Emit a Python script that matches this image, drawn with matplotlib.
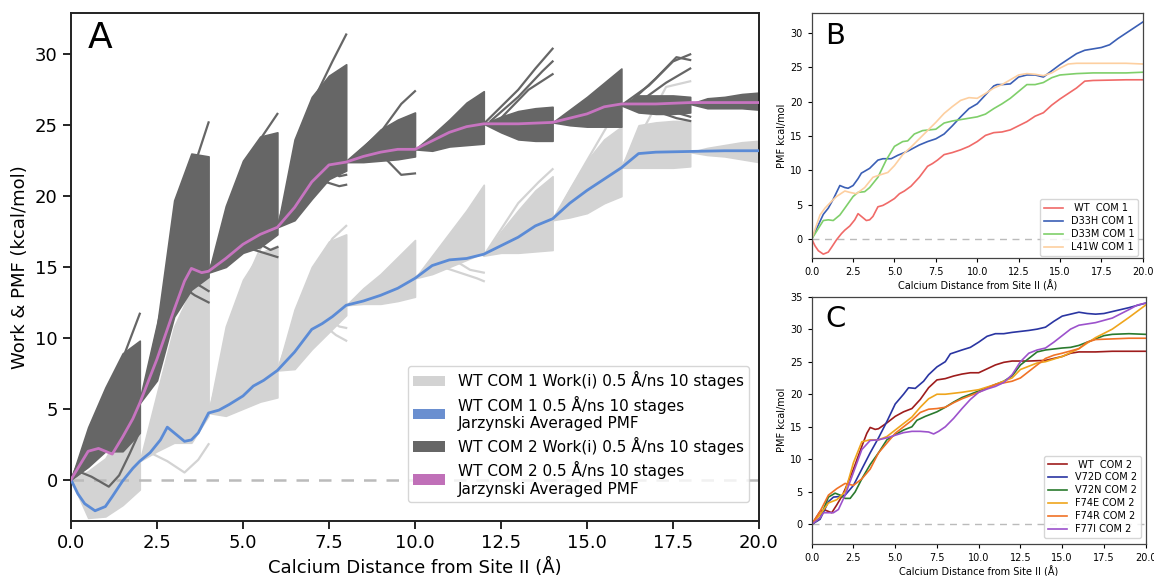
import matplotlib
matplotlib.use("Agg")
import matplotlib.pyplot as plt
from matplotlib.patches import Patch

# ---------------- DATA ----------------
# Panel A: Jarzynski averaged PMFs
WT1_X = [0, 0.2, 0.4, 0.7, 1.0, 1.2, 1.5, 1.8, 2.0, 2.3, 2.6, 2.8, 3.0, 3.3, 3.5, 3.7, 4.0, 4.3, 4.6,
         5.0, 5.3, 5.6, 6.0, 6.5, 7.0, 7.3, 7.6, 8.0, 8.5, 9.0, 9.5, 10.0, 10.5, 11.0, 11.5, 12.0,
         12.5, 13.0, 13.5, 14.0, 14.5, 15.0, 15.5, 16.0, 16.5, 17.0, 18.0, 19.0, 20.0]
WT1_Y = [0, -1.0, -1.7, -2.2, -1.9, -1.2, -0.1, 0.8, 1.3, 1.9, 2.8, 3.7, 3.3, 2.7, 2.8, 3.3, 4.7, 4.9, 5.3,
         5.9, 6.6, 7.0, 7.7, 9.0, 10.6, 11.0, 11.5, 12.3, 12.6, 13.0, 13.5, 14.2, 15.1, 15.5, 15.6, 15.9,
         16.5, 17.1, 17.9, 18.4, 19.5, 20.4, 21.2, 22.0, 23.0, 23.1, 23.15, 23.2, 23.2]
WT2_X = [0, 0.3, 0.5, 0.8, 1.0, 1.2, 1.5, 1.8, 2.0, 2.5, 3.0, 3.3, 3.5, 3.8, 4.0, 4.5, 5.0, 5.5, 6.0,
         6.5, 7.0, 7.5, 8.0, 8.5, 9.0, 9.5, 10.0, 10.5, 11.0, 11.5, 12.0, 13.0, 14.0, 15.0, 15.5, 16.0,
         17.0, 18.0, 20.0]
WT2_Y = [0, 1.2, 2.0, 2.2, 2.0, 1.8, 3.0, 4.3, 5.4, 8.5, 12.0, 14.0, 14.9, 14.6, 14.7, 15.6, 16.6, 17.3, 17.8,
         19.2, 21.0, 22.2, 22.4, 22.8, 23.1, 23.3, 23.3, 23.9, 24.5, 24.9, 25.1, 25.1, 25.2, 25.8, 26.3, 26.5,
         26.5, 26.6, 26.6]

# Work(i) bundles: 10 pulling stages, envelope sampled at stage offsets
STAGE_STARTS = [0, 2, 4, 6, 8, 10, 12, 14, 16, 18]
STAGE_OFFSETS = [0, 0.5, 1.0, 1.5, 2.0]
COM1_LOW = [[0, -2.7, -2.6, -1.8, -0.7], [1.3, 2.0, 2.6, 2.6, 4.5], [4.7, 4.5, 5.0, 5.5, 5.8],
            [7.7, 7.8, 9.2, 10.4, 11.6], [12.3, 12.4, 12.4, 12.6, 12.9], [14.2, 14.5, 15.0, 15.5, 16.0],
            [15.8, 16.0, 16.0, 16.1, 16.2], [18.3, 18.5, 18.8, 19.5, 20.0], [22.0, 22.0, 22.0, 22.0, 22.1],
            [23.1, 22.9, 22.8, 22.6, 22.4]]
COM1_HIGH = [[0, 0.6, 1.5, 3.5, 9.6], [1.3, 6.1, 10.8, 13.4, 14.3], [4.7, 10.8, 14.1, 16.0, 16.5],
             [7.7, 12.0, 15.0, 16.8, 17.3], [12.3, 13.5, 14.5, 15.7, 16.9], [14.2, 15.8, 17.4, 19.0, 20.8],
             [15.8, 17.5, 19.0, 20.4, 21.4], [18.3, 20.5, 22.5, 24.0, 24.9], [22.0, 25.0, 25.2, 25.3, 25.3],
             [23.1, 23.4, 23.6, 23.8, 23.9]]
COM2_LOW = [[0, 0.9, 2.0, 2.0, 3.3], [5.4, 7.0, 11.5, 13.4, 14.3], [14.6, 15.0, 16.0, 16.4, 17.3],
            [17.8, 18.3, 19.8, 21.2, 21.8], [22.4, 22.4, 22.5, 22.6, 22.8], [23.3, 23.2, 23.5, 23.6, 23.7],
            [25.1, 24.5, 24.0, 23.9, 23.9], [25.2, 25.0, 24.9, 24.9, 24.9], [26.4, 25.9, 25.8, 25.8, 25.9],
            [26.5, 26.2, 26.2, 26.2, 26.1]]
COM2_HIGH = [[0, 3.7, 6.5, 8.9, 9.8], [5.4, 10.8, 19.7, 23.0, 22.8], [14.6, 19.3, 22.5, 24.2, 24.5],
             [17.8, 24.0, 27.0, 28.5, 29.3], [22.4, 23.5, 24.7, 25.4, 25.9], [23.3, 24.3, 25.4, 26.6, 27.4],
             [25.1, 25.6, 26.0, 26.2, 26.3], [25.2, 26.1, 27.0, 28.0, 29.0], [26.4, 27.1, 27.1, 27.1, 27.0],
             [26.5, 26.9, 27.0, 27.2, 27.3]]
# individual straggling work trajectories (x list, y list)
COM1_TRACES = [
    ([2.3, 2.8, 3.3, 3.7, 4.0], [1.9, 1.3, 0.5, 1.4, 2.5]),
    ([4.0, 5.0, 5.6, 6.0], [4.7, 13.5, 16.8, 17.6]),
    ([6.0, 7.0, 7.6, 8.0], [7.7, 14.5, 17.0, 17.9]),
    ([7.3, 7.7, 8.0], [11.0, 10.2, 9.8]),
    ([7.5, 7.8, 8.0], [11.3, 10.8, 10.7]),
    ([10.8, 11.3, 11.8, 12.0], [15.0, 14.6, 14.2, 14.0]),
    ([11.2, 11.6, 12.0], [15.4, 14.8, 14.6]),
    ([12.0, 13.0, 13.6, 14.0], [15.8, 19.5, 21.0, 21.9]),
    ([14.0, 15.0, 15.6, 16.0], [18.3, 22.5, 25.0, 26.0]),
    ([16.0, 16.7, 17.3, 18.0], [22.0, 25.0, 27.7, 28.1]),
]
COM2_TRACES = [
    ([0, 0.3, 0.6, 1.1, 1.4, 1.7, 2.0], [0, 0.5, 0.2, -0.5, 0.3, 1.8, 3.4]),
    ([0, 0.8, 1.5, 2.0], [0, 4.5, 8.5, 11.7]),
    ([2.0, 3.0, 3.5, 4.0], [5.4, 16.0, 21.5, 25.2]),
    ([3.3, 3.6, 4.0], [13.5, 13.0, 12.5]),
    ([3.5, 3.8, 4.0], [14.0, 13.6, 13.3]),
    ([4.0, 5.0, 5.5, 6.0], [14.6, 21.0, 24.0, 25.8]),
    ([5.2, 5.6, 6.0], [16.3, 16.0, 15.7]),
    ([5.5, 5.8, 6.0], [16.6, 16.2, 16.4]),
    ([6.0, 7.0, 7.6, 8.0], [17.8, 26.5, 29.5, 31.4]),
    ([7.4, 7.8, 8.0], [21.0, 20.7, 20.8]),
    ([7.6, 7.8, 8.0], [21.7, 21.4, 21.5]),
    ([8.0, 9.0, 9.6, 10.0], [22.4, 24.5, 26.5, 27.4]),
    ([9.2, 9.6, 10.0], [22.5, 21.5, 21.6]),
    ([12.0, 13.0, 13.5, 14.0], [25.1, 27.5, 29.0, 30.4]),
    ([12.2, 13.0, 13.7, 14.0], [25.3, 27.0, 28.8, 29.5]),
    ([12.5, 13.3, 14.0], [25.5, 27.5, 28.6]),
    ([16.0, 16.8, 17.5, 18.0], [26.4, 27.8, 29.5, 30.0]),
    ([16.2, 17.0, 17.6, 18.0], [26.5, 28.3, 29.8, 29.6]),
    ([16.5, 17.3, 18.0], [26.6, 28.0, 29.0]),
    ([17.0, 17.6, 18.0], [26.0, 25.5, 25.3]),
    ([17.3, 18.0], [26.1, 25.6]),
]
A_LABELS = ["WT COM 1 Work(i) 0.5 Å/ns 10 stages",
            "WT COM 1 0.5 Å/ns 10 stages\nJarzynski Averaged PMF",
            "WT COM 2 Work(i) 0.5 Å/ns 10 stages",
            "WT COM 2 0.5 Å/ns 10 stages\nJarzynski Averaged PMF"]

# Panel B: COM 1 mutants
B_LABELS = [" WT  COM 1", "D33H COM 1", "D33M COM 1", "L41W COM 1"]
D33H_X = [0, 0.7, 1.0, 1.3, 1.7, 2.0, 2.2, 2.5, 2.8, 3.0, 3.5, 4.0, 4.3, 4.8, 5.2, 5.8, 6.5, 7.0, 7.5, 8.0,
          8.5, 9.0, 9.5, 10.0, 10.5, 11.0, 11.2, 11.5, 12.0, 12.5, 13.0, 13.5, 14.0, 14.5, 15.0, 15.5,
          16.0, 16.5, 17.0, 17.5, 18.0, 18.5, 19.0, 19.5, 20.0]
D33H_Y = [0, 3.6, 4.5, 5.8, 7.8, 7.5, 7.4, 7.8, 8.8, 9.6, 10.3, 11.5, 11.7, 11.7, 12.2, 12.8, 13.7, 14.2,
          14.6, 15.3, 16.5, 17.8, 19.0, 19.7, 21.0, 22.3, 22.5, 22.5, 22.6, 23.6, 23.9, 23.9, 23.6, 24.5,
          25.4, 26.2, 27.0, 27.5, 27.7, 27.9, 28.3, 29.2, 30.0, 30.8, 31.6]
D33M_X = [0, 0.7, 1.0, 1.3, 1.7, 2.0, 2.5, 2.8, 3.2, 3.5, 4.0, 4.5, 5.0, 5.5, 5.8, 6.2, 6.7, 7.5, 8.0, 8.5,
          9.0, 9.5, 10.0, 10.5, 11.0, 11.5, 12.0, 12.5, 13.0, 13.5, 14.0, 14.5, 15.0, 16.0, 17.0, 18.0,
          19.0, 20.0]
D33M_Y = [0, 2.7, 2.8, 2.7, 3.5, 4.5, 6.2, 6.8, 6.9, 7.5, 9.0, 11.5, 13.5, 14.2, 14.3, 15.3, 15.8, 16.0,
          16.9, 17.2, 17.4, 17.6, 17.8, 18.2, 19.0, 19.7, 20.5, 21.5, 22.5, 22.5, 22.8, 23.5, 23.9, 24.1,
          24.2, 24.2, 24.2, 24.3]
L41W_X = [0, 0.5, 0.8, 1.2, 1.5, 2.0, 2.3, 2.7, 3.2, 3.7, 4.2, 4.6, 5.0, 5.5, 6.0, 6.5, 7.0, 7.5, 8.0, 8.5,
          9.0, 9.5, 10.0, 10.5, 11.0, 11.5, 12.0, 12.5, 13.0, 13.5, 14.0, 14.5, 15.0, 15.5, 16.0, 17.0,
          18.0, 19.0, 20.0]
L41W_Y = [0, 3.5, 4.5, 5.5, 6.2, 7.0, 6.8, 6.6, 7.5, 9.0, 9.4, 9.7, 10.7, 12.3, 13.4, 14.6, 15.8, 17.0,
          18.3, 19.3, 20.2, 20.6, 20.5, 21.2, 22.0, 22.5, 23.2, 23.9, 24.1, 24.0, 23.8, 24.2, 24.9, 25.5,
          25.6, 25.6, 25.6, 25.6, 25.5]

# Panel C: COM 2 mutants
C_LABELS = [" WT  COM 2", "V72D COM 2", "V72N COM 2", "F74E COM 2", "F74R COM 2", "F77I COM 2"]
V72D_X = [0, 0.5, 1.0, 1.3, 1.7, 2.0, 2.5, 3.0, 3.5, 4.0, 4.5, 5.0, 5.5, 5.8, 6.2, 6.7, 7.0, 7.5, 8.0, 8.3,
          9.0, 9.5, 10.0, 10.5, 11.0, 11.5, 12.0, 13.0, 13.5, 14.0, 14.5, 15.0, 15.5, 16.0, 16.5, 17.0,
          17.5, 18.0, 18.5, 19.0, 20.0]
V72D_Y = [0, 0.8, 3.5, 4.2, 4.3, 4.5, 6.0, 8.5, 11.0, 13.3, 15.8, 18.5, 20.0, 21.0, 20.9, 22.0, 23.0, 24.2,
          25.0, 26.2, 26.8, 27.2, 28.0, 28.9, 29.3, 29.3, 29.5, 29.8, 30.0, 30.3, 31.2, 32.0, 32.3, 32.6,
          32.4, 32.3, 32.4, 32.7, 33.0, 33.3, 34.0]
V72N_X = [0, 0.5, 1.0, 1.4, 1.7, 2.0, 2.3, 2.6, 3.0, 3.5, 4.0, 4.5, 5.0, 5.5, 6.0, 6.3, 6.8, 7.5, 8.0, 8.5,
          9.0, 9.5, 10.0, 10.5, 11.0, 11.5, 12.0, 12.5, 13.0, 13.5, 14.0, 15.0, 15.5, 16.0, 17.0, 17.5,
          18.0, 19.0, 20.0]
V72N_Y = [0, 1.0, 4.2, 4.8, 4.5, 4.0, 4.0, 5.0, 7.0, 9.2, 11.0, 13.0, 13.8, 14.5, 15.0, 16.0, 16.6, 17.3,
          18.0, 18.8, 19.5, 20.0, 20.5, 21.0, 21.5, 22.0, 22.8, 24.5, 25.5, 26.5, 26.8, 27.1, 27.2, 27.5,
          28.5, 29.0, 29.2, 29.3, 29.2]
F74E_X = [0, 0.5, 1.0, 1.5, 2.0, 2.5, 3.0, 3.5, 4.0, 4.5, 5.0, 5.5, 6.0, 6.5, 7.0, 7.5, 8.0, 9.0, 10.0, 11.0,
          12.0, 12.5, 13.0, 13.5, 14.0, 15.0, 16.0, 17.0, 18.0, 19.0, 20.0]
F74E_Y = [0, 1.5, 3.3, 3.8, 5.0, 9.5, 12.7, 13.0, 13.0, 13.5, 14.5, 15.5, 16.5, 18.0, 19.3, 20.0, 20.0, 20.3,
          20.7, 21.5, 22.5, 23.8, 24.3, 24.8, 25.0, 25.8, 27.0, 28.7, 30.0, 31.8, 33.7]
F74R_X = [0, 0.5, 1.0, 1.5, 2.0, 2.5, 3.0, 3.5, 4.0, 4.5, 5.0, 5.5, 6.0, 6.5, 7.0, 7.5, 8.0, 8.5, 9.0, 9.5,
          10.0, 11.0, 12.0, 12.5, 13.0, 14.0, 14.5, 15.0, 16.0, 16.5, 17.0, 18.0, 19.0, 20.0]
F74R_Y = [0, 2.0, 4.5, 5.5, 6.3, 6.0, 7.0, 8.5, 11.0, 12.5, 14.0, 15.0, 16.0, 17.2, 17.7, 17.8, 18.0, 18.7,
          19.3, 19.8, 20.3, 21.5, 22.0, 22.5, 23.5, 25.5, 26.0, 26.3, 27.0, 28.0, 28.4, 28.5, 28.6, 28.6]
F77I_X = [0, 0.5, 0.7, 1.0, 1.3, 1.6, 2.0, 2.5, 3.0, 3.5, 4.0, 4.5, 5.0, 5.5, 6.0, 6.5, 7.0, 7.3, 7.6, 8.0,
          8.5, 9.0, 9.5, 10.0, 10.5, 11.0, 11.5, 12.0, 12.5, 13.0, 13.5, 14.0, 14.5, 15.0, 15.5, 16.0,
          17.0, 18.0, 19.0, 19.5, 20.0]
F77I_Y = [0, 1.0, 1.8, 1.8, 1.8, 2.3, 4.5, 8.0, 11.5, 12.9, 13.0, 13.3, 13.7, 14.1, 14.3, 14.3, 14.2, 13.9,
          14.3, 15.0, 16.3, 17.8, 19.2, 20.3, 20.8, 21.2, 21.8, 23.0, 25.0, 26.3, 26.8, 27.1, 28.0, 29.0,
          30.0, 30.6, 31.0, 31.7, 33.0, 33.7, 34.0]

XTICKS = [0.0, 2.5, 5.0, 7.5, 10.0, 12.5, 15.0, 17.5, 20.0]
XLABEL = "Calcium Distance from Site II (Å)"

# ---------------- STYLE ----------------
LIGHT = "#d3d3d3"
DARK = "#666666"
BLUE = "#5b8bd6"
PINK = "#c774c0"

fig = plt.figure(figsize=(11.54, 5.76), dpi=100)
plt.rcParams["font.family"] = ["DejaVu Sans"]

# ---------------- PANEL A ----------------
axA = fig.add_axes([0.0615, 0.096, 0.5962, 0.881])
for s, lo, hi in zip(STAGE_STARTS, COM1_LOW, COM1_HIGH):
    xs = [s + o for o in STAGE_OFFSETS]
    axA.fill_between(xs, lo, hi, color=LIGHT, lw=1.2, edgecolor=LIGHT, zorder=1)
for tx, ty in COM1_TRACES:
    axA.plot(tx, ty, color=LIGHT, lw=1.6, zorder=1)
axA.axhline(0, color="#bbbbbb", ls=(0, (5, 4)), lw=1.8, zorder=1.5)
for s, lo, hi in zip(STAGE_STARTS, COM2_LOW, COM2_HIGH):
    xs = [s + o for o in STAGE_OFFSETS]
    axA.fill_between(xs, lo, hi, color=DARK, lw=1.2, edgecolor=DARK, zorder=2)
for tx, ty in COM2_TRACES:
    axA.plot(tx, ty, color=DARK, lw=1.6, zorder=2)
axA.plot(WT1_X, WT1_Y, color=BLUE, lw=2.0, zorder=3)
axA.plot(WT2_X, WT2_Y, color=PINK, lw=2.0, zorder=3)

axA.set_xlim(0, 20)
axA.set_ylim(-2.9, 32.9)
axA.set_xticks(XTICKS)
axA.set_yticks([0, 5, 10, 15, 20, 25, 30])
axA.tick_params(labelsize=13, length=6, width=1.2)
axA.set_xlabel(XLABEL, fontsize=13)
axA.set_ylabel("Work & PMF (kcal/mol)", fontsize=13)
for sp in axA.spines.values():
    sp.set_linewidth(1.4)
    sp.set_color("#222222")
axA.text(0.025, 0.985, "A", transform=axA.transAxes, fontsize=26, va="top", ha="left")
handles = [Patch(facecolor=LIGHT), Patch(facecolor="#6a8fd0"), Patch(facecolor=DARK), Patch(facecolor="#c070b8")]
axA.legend(handles, A_LABELS, loc="lower right", bbox_to_anchor=(0.9855, 0.037), borderaxespad=0,
           fontsize=11.0, handlelength=2.1, labelspacing=0.4, handletextpad=0.8, borderpad=0.35)

# ---------------- PANEL B ----------------
axB = fig.add_axes([0.7034, 0.5516, 0.2868, 0.4255])
B_COLORS = ["#f06a68", "#3b5fb5", "#7fcf6a", "#fdcfa0"]
B_DATA = [(WT1_X, WT1_Y), (D33H_X, D33H_Y), (D33M_X, D33M_Y), (L41W_X, L41W_Y)]
axB.axhline(0, color="#bbbbbb", ls=(0, (5, 4)), lw=1.0, zorder=1)
for (bx, by), c, lab in zip(B_DATA, B_COLORS, B_LABELS):
    axB.plot(bx, by, color=c, lw=1.2, label=lab)
axB.set_xlim(0, 20)
axB.set_ylim(-2.8, 32.9)
axB.set_xticks(XTICKS)
axB.set_yticks([0, 5, 10, 15, 20, 25, 30])
axB.tick_params(labelsize=7, length=3, width=0.8)
axB.set_xlabel(XLABEL, fontsize=7, labelpad=2)
axB.set_ylabel("PMF kcal/mol", fontsize=7, labelpad=2)
for sp in axB.spines.values():
    sp.set_linewidth(0.9)
    sp.set_color("#444444")
axB.text(0.04, 0.965, "B", transform=axB.transAxes, fontsize=21, va="top", ha="left")
axB.legend(loc="lower right", bbox_to_anchor=(0.987, 0.01), borderaxespad=0, fontsize=7,
           handlelength=2.0, labelspacing=0.3)

# ---------------- PANEL C ----------------
axC = fig.add_axes([0.7034, 0.0556, 0.2894, 0.4295])
C_COLORS = ["#9e1c1c", "#2a35a2", "#2a7a2e", "#efa51c", "#f07226", "#9c52cc"]
C_DATA = [(WT2_X, WT2_Y), (V72D_X, V72D_Y), (V72N_X, V72N_Y), (F74E_X, F74E_Y),
          (F74R_X, F74R_Y), (F77I_X, F77I_Y)]
axC.axhline(0, color="#bbbbbb", ls=(0, (5, 4)), lw=1.0, zorder=1)
for (cx, cy), c, lab in zip(C_DATA, C_COLORS, C_LABELS):
    axC.plot(cx, cy, color=c, lw=1.2, label=lab)
axC.set_xlim(0, 20)
axC.set_ylim(-3, 35)
axC.set_xticks(XTICKS)
axC.set_yticks([0, 5, 10, 15, 20, 25, 30, 35])
axC.tick_params(labelsize=7, length=3, width=0.8)
axC.set_xlabel(XLABEL, fontsize=7, labelpad=2)
axC.set_ylabel("PMF kcal/mol", fontsize=7, labelpad=2)
for sp in axC.spines.values():
    sp.set_linewidth(0.9)
    sp.set_color("#444444")
axC.text(0.04, 0.966, "C", transform=axC.transAxes, fontsize=21, va="top", ha="left")
axC.legend(loc="lower right", bbox_to_anchor=(0.986, 0.024), borderaxespad=0, fontsize=7,
           handlelength=2.0, labelspacing=0.3)

fig.savefig("out.png", dpi=100)
